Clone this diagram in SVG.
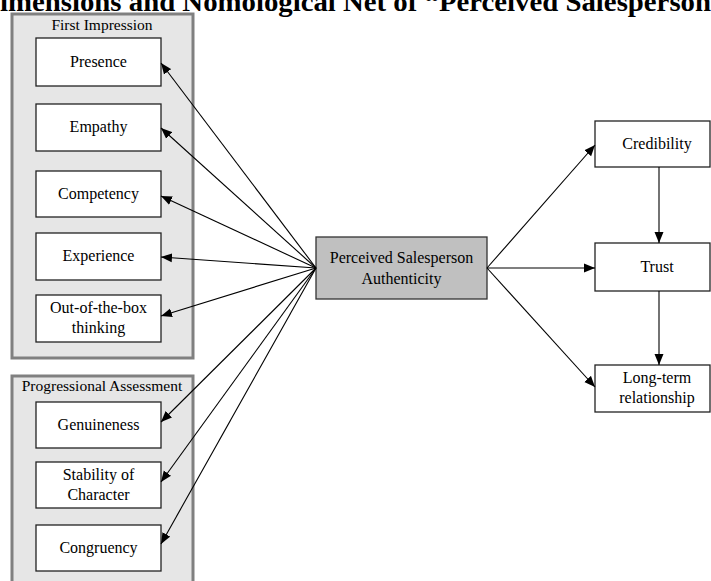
<svg xmlns="http://www.w3.org/2000/svg" width="711" height="581" viewBox="0 0 711 581">
<style>
text{font-family:"Liberation Serif","Times New Roman",serif;fill:#000}
.t{font-size:16px;text-anchor:middle}
.g{font-size:15.5px;text-anchor:middle}
.title{font-size:28px;font-weight:bold}
.grp{fill:#e6e6e6;stroke:#808080;stroke-width:3}
.box{fill:#fff;stroke:#222;stroke-width:1.3}
.cbox{fill:#c0c0c0;stroke:#333;stroke-width:1.3}
.c line{stroke:#000;stroke-width:1.1;marker-end:url(#ah)}
</style>
<defs>
<marker id="ah" markerUnits="userSpaceOnUse" markerWidth="12" markerHeight="10" viewBox="0 0 12 10" refX="11" refY="5" orient="auto">
<path d="M0,0.5 L11,5 L0,9.5 Z" fill="#000"/>
</marker>
</defs>
<rect width="711" height="581" fill="#fff"/>
<text class="title" x="0" y="11" textLength="711" lengthAdjust="spacingAndGlyphs">imensions and Nomological Net of “Perceived Salesperson</text>

<g id="group-first-impression">
<rect class="grp" x="12" y="14" width="181" height="344"/>
<text class="g" x="102" y="30">First Impression</text>
</g>
<g id="group-progressional-assessment">
<rect class="grp" x="12" y="376" width="181" height="215"/>
<text class="g" x="102" y="391">Progressional Assessment</text>
</g>

<g id="presence"><rect class="box" x="36" y="38" width="125" height="48"/><text class="t" x="98.5" y="67">Presence</text></g>
<g id="empathy"><rect class="box" x="36" y="104" width="125" height="47"/><text class="t" x="98.5" y="132">Empathy</text></g>
<g id="competency"><rect class="box" x="36" y="171" width="125" height="46"/><text class="t" x="98.5" y="199">Competency</text></g>
<g id="experience"><rect class="box" x="36" y="233" width="125" height="47"/><text class="t" x="98.5" y="261">Experience</text></g>
<g id="out-of-the-box"><rect class="box" x="36" y="295" width="125" height="47"/><text class="t" x="98.5" y="313">Out-of-the-box</text><text class="t" x="98.5" y="333">thinking</text></g>
<g id="genuineness"><rect class="box" x="36" y="402" width="125" height="46"/><text class="t" x="98.5" y="430">Genuineness</text></g>
<g id="stability"><rect class="box" x="36" y="462" width="125" height="46"/><text class="t" x="98.5" y="480">Stability of</text><text class="t" x="98.5" y="500">Character</text></g>
<g id="congruency"><rect class="box" x="36" y="525" width="125" height="46"/><text class="t" x="98.5" y="553">Congruency</text></g>

<g id="authenticity"><rect class="cbox" x="316" y="237" width="171" height="62"/><text class="t" x="401.5" y="263">Perceived Salesperson</text><text class="t" x="401.5" y="284">Authenticity</text></g>

<g id="credibility"><rect class="box" x="595" y="121" width="115" height="46"/><text class="t" x="657" y="149">Credibility</text></g>
<g id="trust"><rect class="box" x="595" y="243" width="115" height="48"/><text class="t" x="657" y="272">Trust</text></g>
<g id="long-term"><rect class="box" x="595" y="365" width="115" height="47"/><text class="t" x="657" y="383">Long-term</text><text class="t" x="657" y="403">relationship</text></g>

<g id="connectors" class="c">
<line x1="316" y1="268" x2="161" y2="63"/>
<line x1="316" y1="268" x2="161" y2="128"/>
<line x1="316" y1="268" x2="161" y2="196"/>
<line x1="316" y1="268" x2="161" y2="257"/>
<line x1="316" y1="268" x2="161" y2="316"/>
<line x1="316" y1="268" x2="161" y2="422"/>
<line x1="316" y1="268" x2="161" y2="482"/>
<line x1="316" y1="268" x2="161" y2="544"/>
<line x1="487" y1="268" x2="595" y2="145"/>
<line x1="487" y1="268" x2="595" y2="268"/>
<line x1="487" y1="268" x2="595" y2="387"/>
<line x1="659" y1="167" x2="659" y2="243"/>
<line x1="659" y1="291" x2="659" y2="365"/>
</g>
</svg>
